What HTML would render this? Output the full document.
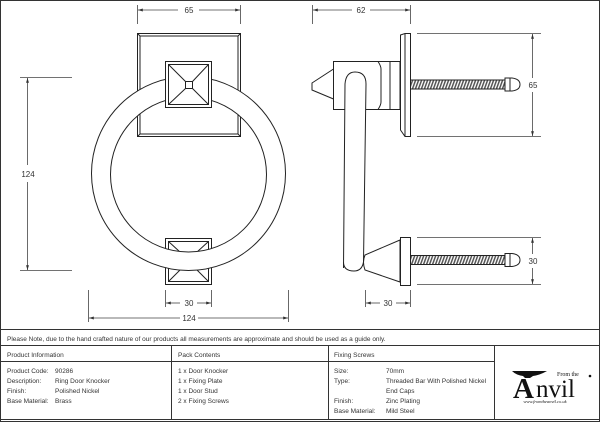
<!DOCTYPE html>
<html><head><meta charset="utf-8"><style>
html,body{margin:0;padding:0;background:#fff;}
svg{display:block}
text{font-family:"Liberation Sans",sans-serif;fill:#333}
</style></head><body>
<svg width="600" height="422" viewBox="0 0 600 422" xmlns="http://www.w3.org/2000/svg">
<defs>
<pattern id="thr" width="3" height="10" patternUnits="userSpaceOnUse" patternTransform="skewX(-20)">
<rect width="3" height="10" fill="#fff"/><rect width="1.6" height="10" fill="#555"/>
</pattern>
<marker id="ar" viewBox="0 0 10 10" refX="10" refY="5" markerWidth="6" markerHeight="6" orient="auto-start-reverse"><path d="M0,2 L10,5 L0,8z" fill="#333"/></marker>
</defs>
<rect x="0.5" y="0.5" width="599" height="421" fill="none" stroke="#333" stroke-width="1"/>
<g stroke="#222" stroke-width="1" fill="none">
<rect x="137.5" y="33.5" width="103" height="103"/>
<rect x="140" y="36" width="98" height="98"/>
<path d="M137.5,33.5 L140,36 M240.5,33.5 L238,36 M137.5,136.5 L140,134 M240.5,136.5 L238,134"/>
<rect x="165.5" y="238.5" width="46" height="46" fill="#fff"/>
<rect x="168.5" y="241.5" width="40" height="40"/>
<path d="M168.5,241.5 L180,252 L197,252 L208.5,241.5 M168.5,281.5 L180,270 L197,270 L208.5,281.5"/>
<path fill="#fff" fill-rule="evenodd" d="M91.5,173.5 a97,97 0 1,0 194,0 a97,97 0 1,0 -194,0 z M110.5,174.5 a78,77.5 0 1,0 156,0 a78,77.5 0 1,0 -156,0 z"/>
<rect x="165.5" y="61.5" width="46" height="46" fill="#fff"/>
<rect x="168.5" y="64.5" width="40" height="40"/>
<rect x="185.5" y="81.5" width="7" height="7"/>
<path d="M168.5,64.5 L185.5,81.5 M208.5,64.5 L192.5,81.5 M168.5,104.5 L185.5,88.5 M208.5,104.5 L192.5,88.5"/>
</g>
<g stroke="#444" stroke-width="0.8" fill="none">
<path d="M137.5,5 V24 M240.5,5 V24"/>
<path d="M178,10 H138" marker-end="url(#ar)"/>
<path d="M199,10 H240" marker-end="url(#ar)"/>
<path d="M20,77.5 H72 M20,270.5 H72"/>
<path d="M27.5,165 V78" marker-end="url(#ar)"/>
<path d="M27.5,182 V270" marker-end="url(#ar)"/>
<path d="M165.5,290 V307 M211.5,290 V307 M88.5,290 V322 M288.5,290 V322"/>
<path d="M180,303 H166" marker-end="url(#ar)"/><path d="M197,303 H211" marker-end="url(#ar)"/>
<path d="M180,318 H89" marker-end="url(#ar)"/><path d="M198,318 H288" marker-end="url(#ar)"/>
</g>
<g font-size="8" text-anchor="middle">
<text x="189" y="13">65</text>
<text x="28" y="177">124</text>
<text x="189" y="306">30</text>
<text x="189" y="321">124</text>
</g>
<g stroke="#222" stroke-width="1" fill="none">
<rect x="410" y="80" width="95" height="9" fill="url(#thr)"/>
<rect x="410" y="255.5" width="95" height="9" fill="url(#thr)"/>
<path d="M505,78 H512 Q520,79 520,84.5 Q520,90 512,91 H505 Z M510,78 V91" fill="#fff"/>
<path d="M505,253.5 H512 Q520,254.5 520,260 Q520,265.5 512,266.5 H505 Z M510,253.5 V266.5" fill="#fff"/>
<path d="M400.5,35 L405,33.5 H410.5 V136.5 H405 L400.5,130 Z" fill="#fff"/>
<path d="M405,33.5 V136.5"/>
<path d="M312,83 L333.5,69 V61.5 H378 Q381,66 381,69 V102 Q381,105 378,109.5 H333.5 V99 L312,90 Z" fill="#fff"/>
<path d="M378,61.5 H400 V109.5 H378 M390,61.5 V109.5 M333.5,69 V99"/>
<path d="M343.5,268 L345,84 Q346,72 355,72 Q366,72 366,84 L363.5,262 Q362,271 354,271 Q343.5,271 343.5,262 Z" fill="#fff"/>
<path d="M400,240 L365,255 Q362,262 365,270 L400,282 Z" fill="#fff"/>
<path d="M400.5,237.5 H410.5 V285.5 H400.5 Z" fill="#fff"/>
</g>
<g stroke="#444" stroke-width="0.8" fill="none">
<path d="M312.5,5 V24 M410.5,5 V24"/>
<path d="M352,10 H313" marker-end="url(#ar)"/><path d="M370,10 H410" marker-end="url(#ar)"/>
<path d="M417,33.5 H541 M417,136.5 H541 M417,237.5 H541 M417,284.5 H541"/>
<path d="M532.5,78 V34" marker-end="url(#ar)"/><path d="M532.5,92 V136" marker-end="url(#ar)"/>
<path d="M532.5,254 V238" marker-end="url(#ar)"/><path d="M532.5,268 V284" marker-end="url(#ar)"/>
<path d="M365.5,290 V307 M410.5,290 V307"/>
<path d="M380,303 H366" marker-end="url(#ar)"/><path d="M396,303 H410" marker-end="url(#ar)"/>
</g>
<g font-size="8" text-anchor="middle">
<text x="361" y="13">62</text>
<text x="533" y="88">65</text>
<text x="533" y="264">30</text>
<text x="388" y="306">30</text>
</g>
<!-- table -->
<g stroke="#333" stroke-width="1" fill="none">
<path d="M0,329.5 H600 M0,345.5 H600 M0,361.5 H494 M0,419.5 H600"/>
<path d="M171.5,345 V420 M328.5,345 V420 M494.5,345 V420"/>
</g>
<g font-size="6.5">
<text x="7" y="341">Please Note, due to the hand crafted nature of our products all measurements are approximate and should be used as a guide only.</text>
<text x="7" y="357">Product Information</text>
<text x="178" y="357">Pack Contents</text>
<text x="334" y="357">Fixing Screws</text>
<text x="7" y="373">Product Code:</text><text x="55" y="373">90286</text>
<text x="7" y="383">Description:</text><text x="55" y="383">Ring Door Knocker</text>
<text x="7" y="393">Finish:</text><text x="55" y="393">Polished Nickel</text>
<text x="7" y="403">Base Material:</text><text x="55" y="403">Brass</text>
<text x="178" y="373">1 x Door Knocker</text>
<text x="178" y="383">1 x Fixing Plate</text>
<text x="178" y="393">1 x Door Stud</text>
<text x="178" y="403">2 x Fixing Screws</text>
<text x="334" y="373">Size:</text><text x="386" y="373">70mm</text>
<text x="334" y="383">Type:</text><text x="386" y="383" textLength="100" lengthAdjust="spacingAndGlyphs">Threaded Bar With Polished Nickel</text>
<text x="386" y="393">End Caps</text>
<text x="334" y="403">Finish:</text><text x="386" y="403">Zinc Plating</text>
<text x="334" y="413">Base Material:</text><text x="386" y="413">Mild Steel</text>
</g>
<g fill="#111">
<path d="M512,371 H547 Q540,375 533,376 L530,378 H525 L523,376 Q516,375 512,371 Z"/>
<text x="513" y="398" font-size="29" font-weight="bold" style="font-family:'Liberation Serif',serif;fill:#111">A</text>
<text x="536" y="397" font-size="25" style="font-family:'Liberation Serif',serif;fill:#111">nvil</text>
<text x="557" y="376" font-size="6" style="font-family:'Liberation Serif',serif;fill:#111">From the</text>
<circle cx="590" cy="376" r="1.3"/>
<text x="545" y="403" font-size="4.5" text-anchor="middle" style="font-family:'Liberation Serif',serif;font-style:italic;fill:#111">www.fromtheanvil.co.uk</text>
</g>
</svg>
</body></html>
